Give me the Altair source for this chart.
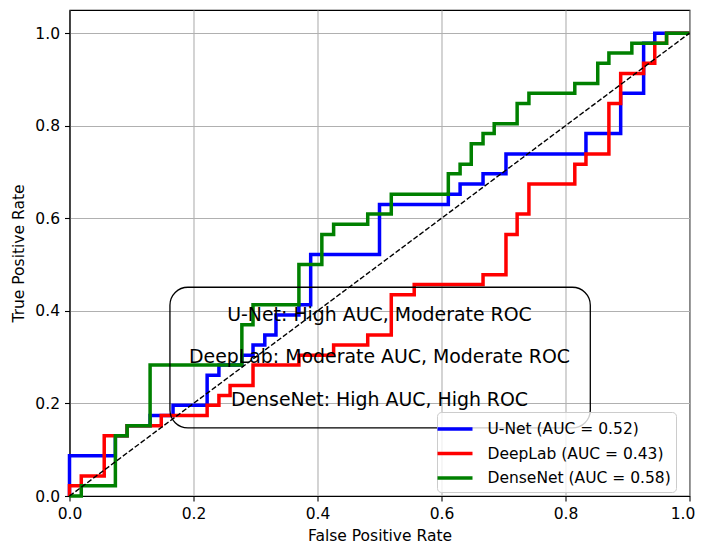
import altair as alt
import pandas as pd

# ROC curve corner points
unet_fpr = [0, 0, 0.074, 0.074, 0.093, 0.093, 0.130, 0.130, 0.167, 0.167, 0.222, 0.222, 0.241, 0.241,
            0.278, 0.278, 0.296, 0.296, 0.315, 0.315, 0.333, 0.333, 0.370, 0.370, 0.389, 0.389, 0.500, 0.500,
            0.611, 0.611, 0.630, 0.630, 0.667, 0.667, 0.704, 0.704, 0.833, 0.833, 0.889, 0.889, 0.926, 0.926,
            0.944, 0.944, 1.0]
unet_tpr = [0, 0.087, 0.087, 0.130, 0.130, 0.152, 0.152, 0.174, 0.174, 0.196, 0.196, 0.261, 0.261, 0.283,
            0.283, 0.304, 0.304, 0.326, 0.326, 0.348, 0.348, 0.391, 0.391, 0.413, 0.413, 0.522, 0.522, 0.630,
            0.630, 0.652, 0.652, 0.674, 0.674, 0.696, 0.696, 0.739, 0.739, 0.783, 0.783, 0.870, 0.870, 0.978,
            0.978, 1.0, 1.0]

deeplab_fpr = [0, 0, 0.019, 0.019, 0.056, 0.056, 0.093, 0.093, 0.148, 0.148, 0.222, 0.222, 0.241, 0.241,
               0.259, 0.259, 0.296, 0.296, 0.370, 0.370, 0.426, 0.426, 0.481, 0.481, 0.519, 0.519, 0.556, 0.556,
               0.667, 0.667, 0.704, 0.704, 0.722, 0.722, 0.741, 0.741, 0.815, 0.815, 0.833, 0.833, 0.870, 0.870,
               0.889, 0.889, 0.926, 0.926, 0.944, 0.944, 0.963, 0.963, 1.0]
deeplab_tpr = [0, 0.022, 0.022, 0.043, 0.043, 0.130, 0.130, 0.152, 0.152, 0.174, 0.174, 0.196, 0.196, 0.217,
               0.217, 0.239, 0.239, 0.283, 0.283, 0.304, 0.304, 0.326, 0.326, 0.348, 0.348, 0.435, 0.435, 0.457,
               0.457, 0.478, 0.478, 0.565, 0.565, 0.609, 0.609, 0.674, 0.674, 0.717, 0.717, 0.739, 0.739, 0.848,
               0.848, 0.913, 0.913, 0.935, 0.935, 0.978, 0.978, 1.0, 1.0]

densenet_fpr = [0, 0.019, 0.019, 0.074, 0.074, 0.093, 0.093, 0.130, 0.130, 0.278, 0.278, 0.296, 0.296,
                0.370, 0.370, 0.407, 0.407, 0.426, 0.426, 0.481, 0.481, 0.519, 0.519, 0.611, 0.611, 0.630,
                0.630, 0.648, 0.648, 0.667, 0.667, 0.685, 0.685, 0.722, 0.722, 0.741, 0.741, 0.815, 0.815,
                0.852, 0.852, 0.870, 0.870, 0.907, 0.907, 0.963, 0.963, 1.0]
densenet_tpr = [0, 0, 0.022, 0.022, 0.130, 0.130, 0.152, 0.152, 0.283, 0.283, 0.370, 0.370, 0.413, 0.413,
                0.500, 0.500, 0.565, 0.565, 0.587, 0.587, 0.609, 0.609, 0.652, 0.652, 0.696, 0.696, 0.717,
                0.717, 0.761, 0.761, 0.783, 0.783, 0.804, 0.804, 0.848, 0.848, 0.870, 0.870, 0.891, 0.891,
                0.935, 0.935, 0.957, 0.957, 0.978, 0.978, 1.0, 1.0]

model_names = ["U-Net (AUC = 0.52)", "DeepLab (AUC = 0.43)", "DenseNet (AUC = 0.58)"]
model_colors = ["#0000ff", "#ff0000", "#008000"]
diag_x = [0.0, 1.0]
diag_y = [0.0, 1.0]
notes = ["U-Net: High AUC, Moderate ROC",
         "DeepLab: Moderate AUC, Moderate ROC",
         "DenseNet: High AUC, High ROC"]
tick_values = [0.0, 0.2, 0.4, 0.6, 0.8, 1.0]

FONT = "DejaVu Sans"
LBL = 15.5

frames = []
for name, fpr, tpr in zip(model_names, [unet_fpr, deeplab_fpr, densenet_fpr],
                          [unet_tpr, deeplab_tpr, densenet_tpr]):
    frames.append(pd.DataFrame({"fpr": fpr, "tpr": tpr, "model": name, "idx": list(range(len(fpr)))}))

xscale = alt.Scale(domain=[0, 1], nice=False, zero=False)
yscale = alt.Scale(domain=[0, 1.05], nice=False, zero=False)

axis_common = dict(values=tick_values, format=".1f", grid=True, gridColor="#b0b0b0", gridWidth=1.1,
                   tickColor="black", tickSize=5, tickWidth=1.1, domainColor="black", domainWidth=1.1,
                   labelFont=FONT, titleFont=FONT, labelFontSize=LBL, titleFontSize=LBL,
                   titleFontWeight="normal", labelColor="black", titleColor="black",
                   labelFlush=False, labelOverlap=False)
xaxis = alt.Axis(title="False Positive Rate", labelPadding=5, titlePadding=7,
                 labelOffset={"condition": {"test": "datum.value == 1", "value": -7}, "value": 0},
                 **axis_common)
yaxis = alt.Axis(title="True Positive Rate", labelPadding=5, titlePadding=8, **axis_common)

color = alt.Color("model:N", scale=alt.Scale(domain=model_names, range=model_colors),
                  legend=alt.Legend(title=None, orient="none", legendX=367.5, legendY=402,
                                    symbolType="M-1.75,0L1.75,0", symbolStrokeWidth=3.5, symbolSize=400,
                                    symbolOffset=1,
                                    labelFont=FONT, labelFontSize=LBL, labelColor="black",
                                    labelLimit=400, labelOffset=20.5, rowPadding=3.5, padding=5,
                                    fillColor="rgba(255,255,255,0.8)", strokeColor="#cccccc",
                                    cornerRadius=4))

layers = []
for f in frames:
    layers.append(
        alt.Chart(f).mark_line(strokeWidth=3.5, strokeJoin="miter").encode(
            x=alt.X("fpr:Q", scale=xscale, axis=xaxis),
            y=alt.Y("tpr:Q", scale=yscale, axis=yaxis),
            color=color,
            order="idx:Q",
        )
    )

diag = alt.Chart(pd.DataFrame({"x": diag_x, "y": diag_y})).mark_line(
    color="black", strokeWidth=1.4, strokeDash=[5.2, 2.2]).encode(
    x=alt.X("x:Q", scale=xscale, axis=xaxis), y=alt.Y("y:Q", scale=yscale, axis=yaxis))

box = alt.Chart(pd.DataFrame({"a": [0]})).mark_rect(
    filled=False, stroke="black", strokeWidth=1.3, cornerRadius=18).encode(
    x=alt.X(datum=0.162, type="quantitative", scale=xscale, axis=xaxis),
    x2=alt.X2(datum=0.840),
    y=alt.Y(datum=0.451, type="quantitative", scale=yscale, axis=yaxis),
    y2=alt.Y2(datum=0.147))

note_y = [0.391, 0.300, 0.207]
texts = []
for t, yy in zip(notes, note_y):
    texts.append(alt.Chart(pd.DataFrame({"a": [0]})).mark_text(
        font=FONT, fontSize=18.9, color="black", align="center", baseline="middle").encode(
        x=alt.X(datum=0.5, type="quantitative", scale=xscale, axis=xaxis),
        y=alt.Y(datum=yy, type="quantitative", scale=yscale, axis=yaxis),
        text=alt.value(t)))

chart = alt.layer(*layers, diag, box, *texts).properties(
    width=620, height=486,
    autosize=alt.AutoSizeParams(type="none"),
    padding={"left": 61.5, "top": 2, "right": 5.5, "bottom": 52}
).configure_view(stroke="black", strokeWidth=1.1)

chart.save("out.html", embed_options={"renderer": "svg", "actions": False})
